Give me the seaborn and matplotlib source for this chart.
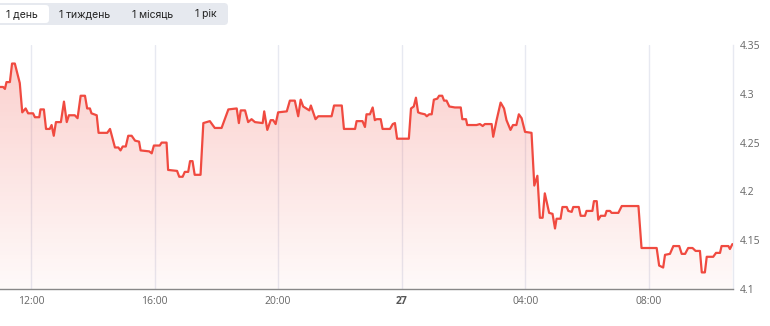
import numpy as np
import pandas as pd
import matplotlib
matplotlib.use("Agg")
import matplotlib.pyplot as plt
from matplotlib.patches import FancyBboxPatch
import seaborn as sns

# hours relative to 12:00 on the 26th
hours = [-1.00, -0.90, -0.84, -0.79, -0.68, -0.61, -0.52, -0.36, -0.28, -0.17, -0.09, 0.07, 0.13, 0.27,
         0.31, 0.42, 0.49, 0.61, 0.67, 0.74, 0.81, 0.97, 1.07, 1.16, 1.23, 1.42, 1.51, 1.61, 1.75, 1.82,
         1.91, 1.96, 2.13, 2.19, 2.47, 2.56, 2.62, 2.72, 2.83, 2.90, 2.97, 3.07, 3.15, 3.26, 3.37, 3.50,
         3.55, 3.83, 3.91, 3.98, 4.17, 4.23, 4.39, 4.44, 4.73, 4.80, 4.91, 4.98, 5.09, 5.15, 5.23, 5.30,
         5.49, 5.58, 5.79, 5.95, 6.17, 6.39, 6.66, 6.73, 6.79, 6.93, 7.03, 7.14, 7.25, 7.50, 7.55, 7.65,
         7.76, 7.84, 7.92, 8.00, 8.28, 8.38, 8.54, 8.65, 8.73, 8.81, 9.01, 9.06, 9.21, 9.30, 9.73, 9.81,
         10.06, 10.13, 10.49, 10.54, 10.73, 10.81, 10.86, 10.97, 11.06, 11.13, 11.19, 11.32, 11.38, 11.62,
         11.71, 11.78, 11.85, 12.23, 12.30, 12.39, 12.46, 12.53, 12.61, 12.75, 12.81, 12.89, 12.97, 13.04,
         13.15, 13.21, 13.31, 13.37, 13.45, 13.54, 13.72, 13.91, 13.96, 14.08, 14.12, 14.42, 14.53, 14.62,
         14.69, 14.91, 14.96, 15.07, 15.20, 15.31, 15.39, 15.52, 15.60, 15.71, 15.79, 15.88, 15.99, 16.20,
         16.29, 16.39, 16.47, 16.56, 16.63, 16.77, 16.88, 16.96, 17.01, 17.14, 17.20, 17.34, 17.39, 17.50,
         17.55, 17.73, 17.79, 17.93, 17.98, 18.17, 18.22, 18.31, 18.36, 18.44, 18.58, 18.63, 18.74, 18.79,
         19.01, 19.12, 19.66, 19.76, 20.25, 20.33, 20.46, 20.52, 20.68, 20.79, 20.98, 21.06, 21.17, 21.27,
         21.41, 21.51, 21.65, 21.71, 21.81, 21.87, 22.08, 22.17, 22.30, 22.35, 22.57, 22.62, 22.70]

prices = [4.307, 4.307, 4.305, 4.312, 4.312, 4.331, 4.331, 4.311, 4.281, 4.285, 4.280, 4.280, 4.276, 4.276,
          4.284, 4.284, 4.264, 4.264, 4.268, 4.257, 4.271, 4.271, 4.292, 4.271, 4.278, 4.278, 4.275, 4.298,
          4.298, 4.285, 4.285, 4.280, 4.278, 4.260, 4.260, 4.264, 4.257, 4.245, 4.245, 4.242, 4.246, 4.246,
          4.257, 4.257, 4.252, 4.251, 4.242, 4.241, 4.239, 4.247, 4.247, 4.250, 4.250, 4.222, 4.221, 4.215,
          4.215, 4.220, 4.220, 4.231, 4.231, 4.217, 4.217, 4.270, 4.272, 4.265, 4.265, 4.284, 4.285, 4.270,
          4.283, 4.283, 4.271, 4.274, 4.271, 4.270, 4.282, 4.263, 4.273, 4.273, 4.269, 4.281, 4.282, 4.293,
          4.293, 4.277, 4.294, 4.287, 4.283, 4.288, 4.274, 4.277, 4.277, 4.288, 4.288, 4.264, 4.264, 4.272,
          4.272, 4.266, 4.279, 4.279, 4.286, 4.273, 4.274, 4.274, 4.264, 4.264, 4.269, 4.270, 4.254, 4.254,
          4.285, 4.287, 4.296, 4.281, 4.280, 4.279, 4.277, 4.279, 4.279, 4.294, 4.295, 4.298, 4.298, 4.293,
          4.293, 4.287, 4.286, 4.286, 4.274, 4.274, 4.268, 4.268, 4.269, 4.267, 4.269, 4.269, 4.256, 4.273,
          4.291, 4.285, 4.273, 4.263, 4.268, 4.268, 4.279, 4.275, 4.261, 4.260, 4.206, 4.216, 4.173, 4.173,
          4.198, 4.178, 4.177, 4.162, 4.172, 4.172, 4.184, 4.184, 4.180, 4.179, 4.184, 4.184, 4.175, 4.175,
          4.180, 4.180, 4.190, 4.190, 4.171, 4.175, 4.175, 4.180, 4.180, 4.178, 4.178, 4.185, 4.185, 4.142,
          4.142, 4.124, 4.122, 4.135, 4.136, 4.144, 4.144, 4.136, 4.136, 4.142, 4.142, 4.139, 4.139, 4.117,
          4.117, 4.133, 4.133, 4.137, 4.137, 4.144, 4.144, 4.141, 4.146]

tick_hours = [0, 4, 8, 12, 16, 20]
tick_labels = ["12:00", "16:00", "20:00", "27", "04:00", "08:00"]
y_ticks = [4.1, 4.15, 4.2, 4.25, 4.3, 4.35]
y_tick_labels = ["4.1", "4.15", "4.2", "4.25", "4.3", "4.35"]
buttons = ["1 день", "1 тиждень", "1 місяць", "1 рік"]

df = pd.DataFrame({"hour": hours, "price": prices})

sns.set_theme(style="white")
plt.rcParams["font.family"] = ["Open Sans", "DejaVu Sans"]

W, H = 770, 326
fig = plt.figure(figsize=(W / 100, H / 100), dpi=100)
ax = fig.add_axes([0, 1 - 289 / H, 733 / W, (289 - 45) / H])

line_color = "#f04a40"
x0, x1 = -1.0, 22.72
y0, y1 = 4.1, 4.35
ax.set_xlim(x0, x1)
ax.set_ylim(y0, y1)

# gradient fill under the line
grad = np.linspace(0.03, 0.27, 256).reshape(-1, 1)
rgba = np.zeros((256, 1, 4))
rgba[..., 0] = 0.94
rgba[..., 1] = 0.29
rgba[..., 2] = 0.25
rgba[..., 3] = grad
poly = ax.fill_between(df["hour"], df["price"], y0, color="none", lw=0)
im = ax.imshow(rgba, extent=[x0, x1, y0, y1], origin="lower", aspect="auto", zorder=1)
im.set_clip_path(poly.get_paths()[0], transform=ax.transData)

sns.lineplot(data=df, x="hour", y="price", ax=ax, color=line_color, lw=1.6, zorder=3)

for h in tick_hours:
    ax.axvline(h, color="#e7e9f1", lw=1, zorder=0.5)

ax.set_xticks(tick_hours)
ax.set_xticklabels(tick_labels)
for lbl in ax.get_xticklabels():
    lbl.set_color("#666666")
    lbl.set_fontsize(7.5)
    if lbl.get_text() == "27":
        lbl.set_fontweight("bold")
        lbl.set_color("#555555")
ax.tick_params(axis="x", length=0, pad=5)

ax.yaxis.tick_right()
ax.set_yticks(y_ticks)
ax.set_yticklabels(y_tick_labels)
ax.tick_params(axis="y", length=0, pad=5, labelsize=7.5, labelcolor="#666666")
ax.set_xlabel("")
ax.set_ylabel("")

for s in ["top", "left"]:
    ax.spines[s].set_visible(False)
ax.spines["right"].set_color("#e7e9f1")
ax.spines["right"].set_linewidth(1)
ax.spines["bottom"].set_color("#888888")
ax.spines["bottom"].set_linewidth(1)
ax.set_facecolor("none")

# range selector buttons
ov = fig.add_axes([0, 0, 1, 1], zorder=5)
ov.set_xlim(0, W)
ov.set_ylim(H, 0)
ov.axis("off")
ov.add_patch(FancyBboxPatch((-6, 3), 234, 22, boxstyle="round,pad=0,rounding_size=4",
                            fc="#e6e9ef", ec="none"))
ov.add_patch(FancyBboxPatch((-6, 5), 55, 18, boxstyle="round,pad=0,rounding_size=3.5",
                            fc="white", ec="none"))
for txt, cx in zip(buttons, [22, 85, 153, 206]):
    ov.text(cx, 14, txt, ha="center", va="center", fontsize=7.5, color="#222222",
            family=["Inter", "DejaVu Sans"])

fig.savefig("out.png", dpi=100)
